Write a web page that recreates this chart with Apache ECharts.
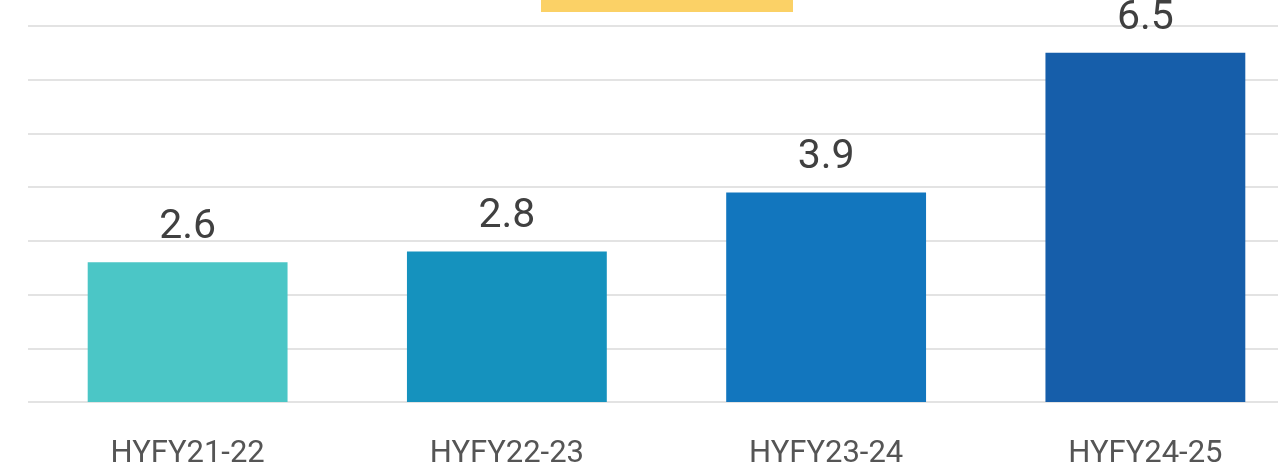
<!DOCTYPE html>
<html>
<head>
<meta charset="utf-8">
<script src="https://cdn.jsdelivr.net/npm/echarts@6/dist/echarts.min.js"></script>
<style>
html,body{margin:0;padding:0;background:#fff;}
#chart{width:1278px;height:472px;}
</style>
</head>
<body>
<div id="chart"></div>
<script>
const categories = ['HYFY21-22', 'HYFY22-23', 'HYFY23-24', 'HYFY24-25'];
const values = [2.6, 2.8, 3.9, 6.5];
const barColors = ['#4BC6C6', '#1592BE', '#1276BE', '#165EAA'];

const chart = echarts.init(document.getElementById('chart'));
chart.setOption({
  animation: false,
  backgroundColor: '#ffffff',
  grid: { left: 28, top: 26, bottom: 70, right: -27, containLabel: false, outerBoundsMode: 'none' },
  graphic: [{
    type: 'rect',
    shape: { x: 541, y: -2, width: 252, height: 14 },
    style: { fill: '#FBD166' },
    z: 10
  }],
  xAxis: {
    type: 'category',
    data: categories,
    axisLine: { show: false },
    axisTick: { show: false },
    axisLabel: {
      color: '#555555',
      fontFamily: 'Roboto',
      fontSize: 31,
      margin: 37
    }
  },
  yAxis: {
    type: 'value',
    min: 0,
    max: 7,
    interval: 1,
    axisLabel: { show: false },
    axisLine: { show: false },
    axisTick: { show: false },
    splitLine: { lineStyle: { color: '#e3e3e3', width: 2 } }
  },
  series: [{
    type: 'bar',
    barWidth: '62.6%',
    data: values.map((v, i) => ({ value: v, itemStyle: { color: barColors[i] } })),
    label: {
      show: true,
      position: 'top',
      distance: 14,
      color: '#404040',
      fontFamily: 'Roboto',
      fontSize: 41
    }
  }]
});
</script>
</body>
</html>
